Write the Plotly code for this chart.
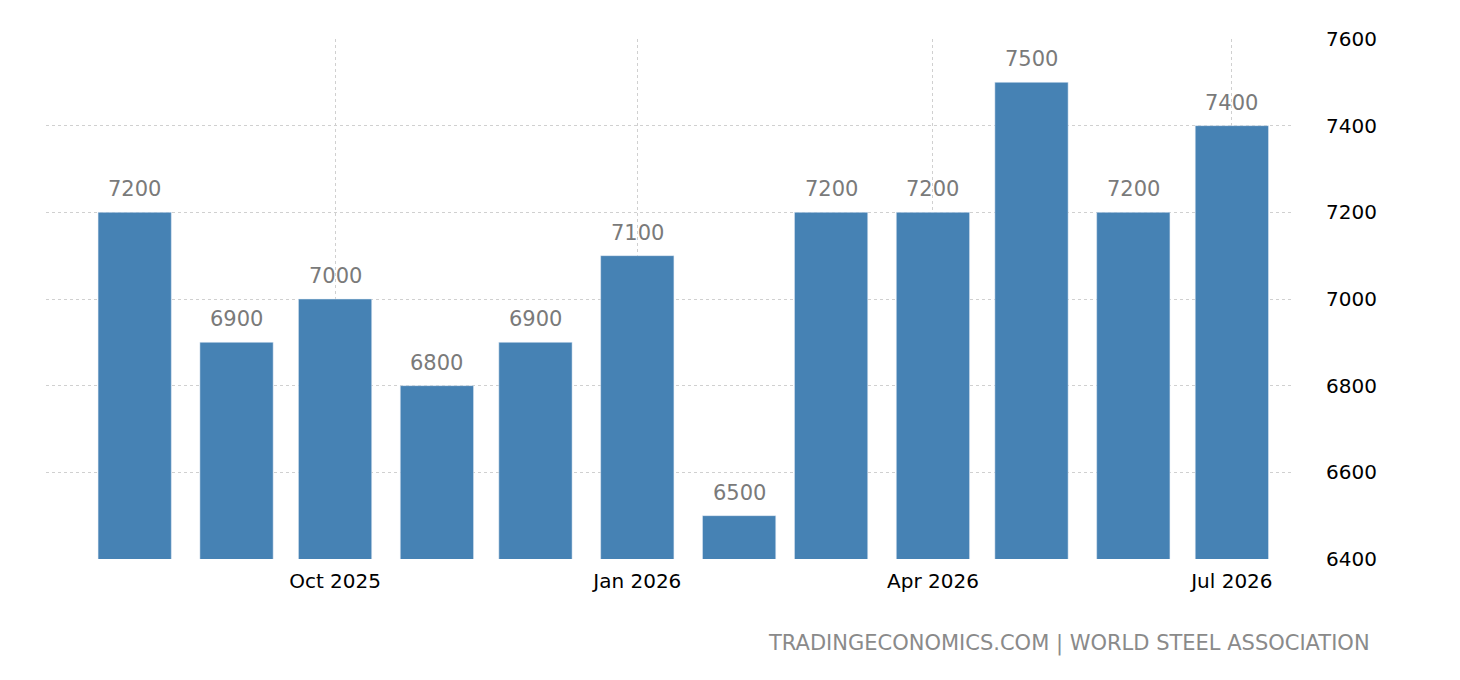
import plotly.graph_objects as go

months = ["2025-08-01","2025-09-01","2025-10-01","2025-11-01","2025-12-01","2026-01-01",
          "2026-02-01","2026-03-01","2026-04-01","2026-05-01","2026-06-01","2026-07-01"]
values = [7200, 6900, 7000, 6800, 6900, 7100, 6500, 7200, 7200, 7500, 7200, 7400]
tick_vals = ["2025-10-01", "2026-01-01", "2026-04-01", "2026-07-01"]
tick_text = ["Oct 2025", "Jan 2026", "Apr 2026", "Jul 2026"]

fig = go.Figure(go.Bar(
    x=months, y=values, marker_color="#4682B4",
    width=22.3*86400000,
))
labels = [dict(x=m, y=v, text=str(v), showarrow=False, yanchor="bottom", yshift=9,
               font=dict(color="#7a7a7a", size=21)) for m, v in zip(months, values)]
fig.update_layout(
    width=1460, height=680, plot_bgcolor="white", paper_bgcolor="white",
    margin=dict(l=38, r=177, t=31, b=129), showlegend=False,
    font=dict(family="DejaVu Sans", size=20, color="#000"),
    xaxis=dict(range=["2025-07-05", "2026-07-19"], tickvals=tick_vals, ticktext=tick_text,
               showgrid=True, gridcolor="#d0d0d0", griddash="dot", ticks="", zeroline=False,
               ticklabelstandoff=8),
    yaxis=dict(side="right", range=[6400, 7600], dtick=200, showgrid=True,
               gridcolor="#d0d0d0", griddash="dot", zeroline=False, ticks="",
               ticklabelstandoff=34),
    annotations=labels + [dict(text="TRADINGECONOMICS.COM | WORLD STEEL ASSOCIATION",
                      xref="paper", yref="paper", x=1.065, y=-0.135,
                      xanchor="right", yanchor="top", showarrow=False,
                      font=dict(color="#8a8a8a", size=21))],
)
fig.write_html("out.html")
